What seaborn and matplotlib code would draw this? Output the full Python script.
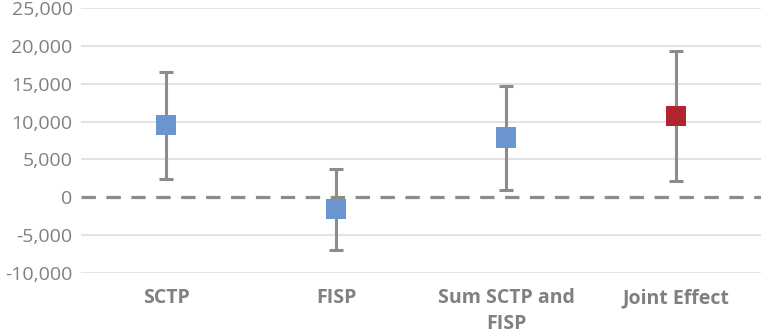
import numpy as np
import pandas as pd
import matplotlib
matplotlib.use("Agg")
import matplotlib.pyplot as plt
import seaborn as sns

# data
categories = ["SCTP", "FISP", "Sum SCTP and\nFISP", "Joint Effect"]
estimate = [9500, -1500, 7900, 10700]
upper = [16500, 3800, 14700, 19300]
lower = [2400, -6900, 1000, 2100]
kind = ["part", "part", "part", "joint"]
yticks = [-10000, -5000, 0, 5000, 10000, 15000, 20000, 25000]

df = pd.DataFrame({"category": categories, "estimate": estimate,
                   "upper": upper, "lower": lower, "kind": kind})

sns.set_theme(style="white")
plt.rcParams["font.family"] = ["Open Sans", "DejaVu Sans"]

fig = plt.figure(figsize=(7.61, 3.32), dpi=100)
ax = fig.add_axes([81 / 761, 1 - 273 / 332, 1 - 81 / 761, 265 / 332])

# gridlines
for v in yticks:
    if v != 0:
        ax.axhline(v, color="#e3e3e3", linewidth=1.4, zorder=0)
ax.axhline(0, color="#8c8c8c", linewidth=2.3, dashes=(4.5, 3.3), zorder=1)

# error bars
x = np.arange(len(df))
ax.errorbar(x, df["estimate"],
            yerr=[df["estimate"] - df["lower"], df["upper"] - df["estimate"]],
            fmt="none", ecolor="#8c8c8c", elinewidth=2.2, capsize=5, capthick=2.2, zorder=2)

# markers
sns.scatterplot(data=df, x="category", y="estimate", hue="kind",
                palette={"part": "#6a95d0", "joint": "#b0262e"},
                marker="s", s=210, linewidth=0, legend=False, zorder=3, ax=ax)

ax.set_xlim(-0.5, len(df) - 0.5)
ax.set_ylim(-10000, 25000)
ax.set_yticks(yticks)
ax.set_yticklabels([f"{v:,}" for v in yticks], fontsize=14, color="#808080")
ax.set_xticks(x)
ax.set_xticklabels(categories, fontsize=14, color="#808080",
                   fontweight="bold", linespacing=1.35)
ax.set_xlabel("")
ax.set_ylabel("")
sns.despine(ax=ax, left=True, bottom=True)
ax.tick_params(axis="y", length=0, pad=6)
ax.tick_params(axis="x", length=0, pad=11)

fig.savefig("out.png", dpi=100)
